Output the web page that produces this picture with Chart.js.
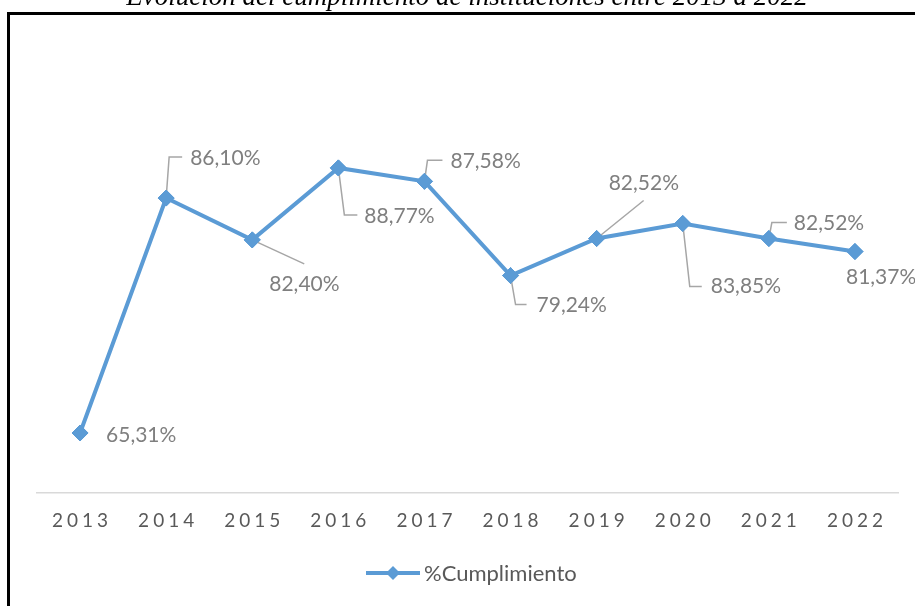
<!DOCTYPE html>
<html><head><meta charset="utf-8">
<script src="https://cdn.jsdelivr.net/npm/chart.js@4.4.1/dist/chart.umd.min.js"></script>
<style>html,body{margin:0;padding:0;background:#fff;overflow:hidden}canvas{display:block}</style>
</head><body>
<canvas id="c" width="915" height="606"></canvas>
<script>
// ---- data ----
const TITLE = 'Evolución del cumplimiento de instituciones entre 2013 a 2022';
const SERIES_NAME = '%Cumplimiento';
const years = ['2013', '2014', '2015', '2016', '2017', '2018', '2019', '2020', '2021', '2022'];
const cumplimiento = [65.31, 86.10, 82.40, 88.77, 87.58, 79.24, 82.52, 83.85, 82.52, 81.37];

// ---- label placement (offsets relative to each point, styling only) ----
const labelOffsets = [
  { dx: 26, dy: 2, leader: null },
  { dx: 24, dy: -40, leader: [[0, 0], [3, -41], [16, -41]] },
  { dx: 17, dy: 44, leader: [[0, 0], [52, 24]] },
  { dx: 26, dy: 48, leader: [[0, 0], [6, 47], [19, 47]] },
  { dx: 26, dy: -20, leader: [[0, 0], [3, -21], [18, -21]] },
  { dx: 26, dy: 30, leader: [[0, 0], [5, 29], [16, 29]] },
  { dx: 12, dy: -55, leader: [[0, 0], [47, -38]] },
  { dx: 28, dy: 63, leader: [[0, 0], [7, 63], [19, 63]] },
  { dx: 25, dy: -15, leader: [[0, 0], [3, -16], [18, -16]] },
  { dx: -9, dy: 26, leader: null }
];

const BLUE = '#5b9bd5';
const LABEL_FONT = '21px Lato, "Liberation Sans", sans-serif';
const LEGEND_FONT = '22px Lato, "Liberation Sans", sans-serif';
const TICK_FONT = '19px Lato, "Liberation Sans", sans-serif';

function fmt(v) { return v.toFixed(2).replace('.', ',') + '%'; }

const decor = {
  id: 'decor',
  beforeDraw(chart) {
    const ctx = chart.ctx;
    ctx.save();
    // frame
    ctx.fillStyle = '#000';
    ctx.fillRect(7, 12, 3, 600);
    ctx.fillRect(7, 12, 910, 3);
    // title (cut at top)
    ctx.font = 'italic 27px "Liberation Serif", "Times New Roman", serif';
    ctx.fillStyle = '#000';
    ctx.textAlign = 'center';
    ctx.textBaseline = 'alphabetic';
    ctx.fillText(TITLE, 467, 5);
    ctx.restore();
  },
  afterDatasetsDraw(chart) {
    const ctx = chart.ctx;
    const meta = chart.getDatasetMeta(0);
    ctx.save();
    // leaders + labels
    meta.data.forEach((pt, i) => {
      const o = labelOffsets[i];
      if (o.leader) {
        ctx.beginPath();
        ctx.strokeStyle = '#a6a6a6';
        ctx.lineWidth = 1.5;
        o.leader.forEach((p, k) => {
          if (k === 0) ctx.moveTo(pt.x + p[0], pt.y + p[1]);
          else ctx.lineTo(pt.x + p[0], pt.y + p[1]);
        });
        ctx.stroke();
      }
    });
    // redraw points above leaders
    meta.data.forEach(pt => pt.draw(ctx, chart.chartArea));
    ctx.font = LABEL_FONT;
    ctx.fillStyle = '#7f7f7f';
    ctx.textAlign = 'left';
    ctx.textBaseline = 'middle';
    meta.data.forEach((pt, i) => {
      const o = labelOffsets[i];
      ctx.fillText(fmt(cumplimiento[i]), pt.x + o.dx, pt.y + o.dy);
    });
    ctx.restore();
  },
  afterDraw(chart) {
    const ctx = chart.ctx;
    const xs = chart.scales.x;
    ctx.save();
    // category tick labels with letter spacing
    ctx.font = TICK_FONT;
    ctx.fillStyle = '#595959';
    ctx.textAlign = 'left';
    ctx.textBaseline = 'middle';
    const spacing = 4;
    years.forEach((lab, i) => {
      const cx = xs.getPixelForValue(i);
      const chars = lab.split('');
      const widths = chars.map(c => ctx.measureText(c).width);
      const total = widths.reduce((a, b) => a + b, 0) + spacing * (chars.length - 1);
      let x = cx - total / 2;
      chars.forEach((c, k) => { ctx.fillText(c, x, 521); x += widths[k] + spacing; });
    });
    // legend
    const ly = 573;
    ctx.strokeStyle = BLUE;
    ctx.lineWidth = 4;
    ctx.beginPath(); ctx.moveTo(366, ly); ctx.lineTo(420, ly); ctx.stroke();
    ctx.fillStyle = BLUE;
    ctx.beginPath();
    ctx.moveTo(393, ly - 7); ctx.lineTo(400, ly); ctx.lineTo(393, ly + 7); ctx.lineTo(386, ly);
    ctx.closePath(); ctx.fill();
    ctx.font = LEGEND_FONT;
    ctx.fillStyle = '#595959';
    ctx.textAlign = 'left';
    ctx.textBaseline = 'middle';
    ctx.fillText(SERIES_NAME, 424, ly + 1);
    ctx.restore();
  }
};

new Chart(document.getElementById('c').getContext('2d'), {
  type: 'line',
  data: {
    labels: years,
    datasets: [{
      label: SERIES_NAME,
      data: cumplimiento,
      borderColor: BLUE,
      backgroundColor: BLUE,
      borderWidth: 4,
      tension: 0,
      pointStyle: 'rectRot',
      pointRadius: 8,
      pointBorderWidth: 1,
      pointBackgroundColor: BLUE,
      pointBorderColor: BLUE,
      clip: false
    }]
  },
  options: {
    responsive: false,
    animation: false,
    devicePixelRatio: 1,
    layout: { padding: { left: 37, right: 17, top: 41, bottom: 113 } },
    plugins: { legend: { display: false }, title: { display: false }, tooltip: { enabled: false } },
    scales: {
      x: {
        offset: true,
        grid: { display: false, drawTicks: false },
        border: { display: true, color: '#d9d9d9', width: 1.5 },
        ticks: { display: false }
      },
      y: { display: false, min: 60, max: 100 }
    }
  },
  plugins: [decor]
});
</script>
</body></html>
